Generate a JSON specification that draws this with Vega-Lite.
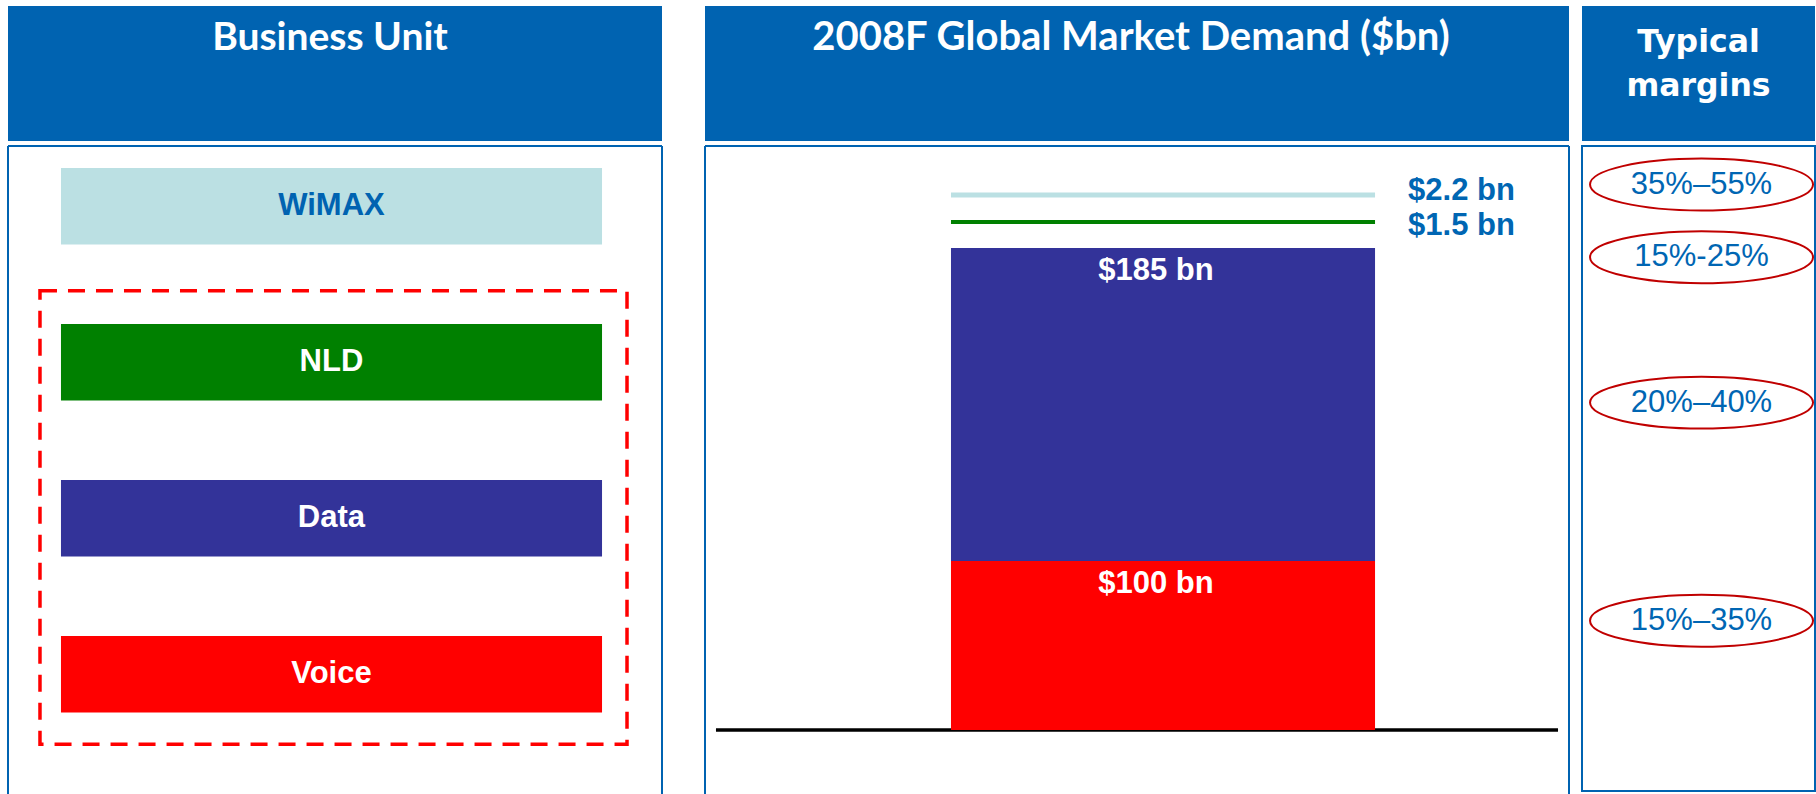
{
  "$schema": "https://vega.github.io/schema/vega-lite/v6.json",
  "background": "white",
  "padding": {"left": 7, "top": 6, "right": 0, "bottom": 0},
  "config": {
    "view": {"stroke": null},
    "font": "Liberation Sans",
    "axis": {"disable": true},
    "legend": {"disable": true}
  },
  "datasets": {
    "units": [
      {"unit": "WiMAX", "margin": "35%–55%"},
      {"unit": "NLD", "margin": "15%-25%"},
      {"unit": "Data", "margin": "20%–40%"},
      {"unit": "Voice", "margin": "15%–35%"}
    ],
    "market": [
      {"segment": "Voice", "value": 100, "order": 1, "label": "$100 bn"},
      {"segment": "Data", "value": 185, "order": 2, "label": "$185 bn"},
      {"segment": "NLD", "value": 1.5, "order": 3, "label": "$1.5 bn"},
      {"segment": "WiMAX", "value": 2.2, "order": 4, "label": "$2.2 bn"}
    ]
  },
  "spacing": 41,
  "hconcat": [
    {
      "spacing": 4,
      "vconcat": [
        {
          "width": 654,
          "height": 135,
          "view": {"fill": "#0063B1", "stroke": null},
          "data": {"values": [{"t": "Business Unit"}]},
          "mark": {"type": "text", "font": "Lato", "fontWeight": "bold", "fontSize": 39, "color": "white", "align": "center", "baseline": "alphabetic", "dy": -23.5, "dx": -5},
          "encoding": {"text": {"field": "t"}}
        },
        {
          "width": 654,
          "height": 648,
          "resolve": {"scale": {"y": "independent"}},
          "layer": [
            {
              "data": {"values": [{}]},
              "mark": {"type": "rule", "color": "#0063B1", "strokeWidth": 2},
              "encoding": {"y": {"datum": 1, "type": "quantitative", "scale": {"domain": [0, 1]}, "axis": null}}
            },
            {
              "data": {"values": [{}]},
              "mark": {"type": "rule", "color": "#0063B1", "strokeWidth": 2},
              "encoding": {"x": {"datum": 0, "type": "quantitative", "scale": {"domain": [0, 1]}, "axis": null}}
            },
            {
              "data": {"values": [{}]},
              "mark": {"type": "rule", "color": "#0063B1", "strokeWidth": 2},
              "encoding": {"x": {"datum": 1, "type": "quantitative", "scale": {"domain": [0, 1]}, "axis": null}}
            },
            {
              "data": {"name": "units"},
              "layer": [
                {
                  "mark": {"type": "rect"},
                  "encoding": {
                    "x": {"datum": 0.081, "type": "quantitative", "scale": {"domain": [0, 1]}, "axis": null},
                    "x2": {"datum": 0.9083},
                    "y": {"field": "unit", "type": "nominal", "axis": null, "scale": {"domain": ["WiMAX", "NLD", "Data", "Voice"], "paddingInner": 0.5096, "paddingOuter": 0.3317, "align": 0.2126, "round": false}},
                    "color": {"field": "unit", "type": "nominal", "legend": null, "scale": {"domain": ["WiMAX", "NLD", "Data", "Voice"], "range": ["#BBE0E3", "#008000", "#333399", "#FF0000"]}}
                  }
                },
                {
                  "data": {"values": [{"from": "NLD", "to": "Voice"}]},
                  "mark": {"type": "rect", "filled": false, "stroke": "#FF0000", "strokeWidth": 3.5, "strokeDash": [17, 11], "yOffset": -71.5, "y2Offset": 70},
                  "encoding": {
                    "x": {"datum": 0.0489, "type": "quantitative", "scale": {"domain": [0, 1]}, "axis": null},
                    "x2": {"datum": 0.9465},
                    "y": {"field": "from", "type": "nominal", "axis": null, "scale": {"domain": ["WiMAX", "NLD", "Data", "Voice"], "paddingInner": 0.5096, "paddingOuter": 0.3317, "align": 0.2126, "round": false}},
                    "y2": {"field": "to"}
                  }
                },
                {
                  "mark": {"type": "text", "font": "Liberation Sans", "fontWeight": "bold", "fontSize": 31, "align": "center", "baseline": "middle"},
                  "encoding": {
                    "x": {"datum": 0.4946, "type": "quantitative", "scale": {"domain": [0, 1]}, "axis": null},
                    "y": {"field": "unit", "type": "nominal", "axis": null, "scale": {"domain": ["WiMAX", "NLD", "Data", "Voice"], "paddingInner": 0.5096, "paddingOuter": 0.3317, "align": 0.2126, "round": false}},
                    "text": {"field": "unit"},
                    "fill": {"field": "unit", "type": "nominal", "legend": null, "scale": {"domain": ["WiMAX", "NLD", "Data", "Voice"], "range": ["#0063B1", "#FFFFFF", "#FFFFFF", "#FFFFFF"]}}
                  }
                }
              ]
            }
          ]
        }
      ]
    },
    {
      "spacing": 11,
      "hconcat": [
        {
          "spacing": 4,
          "vconcat": [
            {
              "width": 864,
              "height": 135,
              "view": {"fill": "#0063B1", "stroke": null},
              "data": {"values": [{"t": "2008F Global Market Demand ($bn)"}]},
              "mark": {"type": "text", "font": "Lato", "fontWeight": "bold", "fontSize": 40, "color": "white", "align": "center", "baseline": "alphabetic", "dy": -23.5, "dx": -6},
              "encoding": {"text": {"field": "t"}}
            },
            {
              "width": 864,
              "height": 648,
              "data": {"name": "market"},
              "transform": [
                {"stack": "value", "groupby": [], "sort": [{"field": "order", "order": "ascending"}], "as": ["y0", "y1"]}
              ],
              "layer": [
                {
                  "data": {"values": [{}]},
                  "mark": {"type": "rule", "color": "#0063B1", "strokeWidth": 2},
                  "encoding": {"x": {"datum": 0, "type": "quantitative", "scale": {"domain": [0, 1]}, "axis": null}}
                },
                {
                  "data": {"values": [{}]},
                  "mark": {"type": "rule", "color": "#0063B1", "strokeWidth": 2},
                  "encoding": {"x": {"datum": 1, "type": "quantitative", "scale": {"domain": [0, 1]}, "axis": null}}
                },
                {
                  "data": {"values": [{}]},
                  "mark": {"type": "rule", "color": "#0063B1", "strokeWidth": 2},
                  "encoding": {"y": {"datum": 345.3, "type": "quantitative", "scale": {"domain": [-37.8, 345.3], "nice": false, "zero": false}, "axis": null}}
                },
                {
                  "data": {"values": [{}]},
                  "mark": {"type": "rule", "color": "#000000", "strokeWidth": 3.5},
                  "encoding": {
                    "x": {"datum": 0.0127, "type": "quantitative", "scale": {"domain": [0, 1]}, "axis": null},
                    "x2": {"datum": 0.9873},
                    "y": {"datum": 0, "type": "quantitative", "scale": {"domain": [-37.8, 345.3], "nice": false, "zero": false}, "axis": null}
                  }
                },
                {
                  "transform": [{"filter": {"field": "segment", "oneOf": ["Voice", "Data"]}}],
                  "mark": {"type": "rect"},
                  "encoding": {
                    "x": {"datum": 0.2847, "type": "quantitative", "scale": {"domain": [0, 1]}, "axis": null},
                    "x2": {"datum": 0.7755},
                    "y": {"field": "y1", "type": "quantitative", "scale": {"domain": [-37.8, 345.3], "nice": false, "zero": false}, "axis": null},
                    "y2": {"field": "y0"},
                    "color": {"field": "segment", "type": "nominal", "legend": null, "scale": {"domain": ["Voice", "Data", "NLD", "WiMAX"], "range": ["#FF0000", "#333399", "#008000", "#BBE0E3"]}}
                  }
                },
                {
                  "transform": [{"filter": {"field": "segment", "equal": "NLD"}}],
                  "mark": {"type": "rule", "strokeWidth": 4, "yOffset": -23.5},
                  "encoding": {
                    "x": {"datum": 0.2847, "type": "quantitative", "scale": {"domain": [0, 1]}, "axis": null},
                    "x2": {"datum": 0.7755},
                    "y": {"field": "y1", "type": "quantitative", "scale": {"domain": [-37.8, 345.3], "nice": false, "zero": false}, "axis": null},
                    "color": {"field": "segment", "type": "nominal", "legend": null, "scale": {"domain": ["Voice", "Data", "NLD", "WiMAX"], "range": ["#FF0000", "#333399", "#008000", "#BBE0E3"]}}
                  }
                },
                {
                  "transform": [{"filter": {"field": "segment", "equal": "WiMAX"}}],
                  "mark": {"type": "rule", "strokeWidth": 5, "yOffset": -46.7},
                  "encoding": {
                    "x": {"datum": 0.2847, "type": "quantitative", "scale": {"domain": [0, 1]}, "axis": null},
                    "x2": {"datum": 0.7755},
                    "y": {"field": "y1", "type": "quantitative", "scale": {"domain": [-37.8, 345.3], "nice": false, "zero": false}, "axis": null},
                    "color": {"field": "segment", "type": "nominal", "legend": null, "scale": {"domain": ["Voice", "Data", "NLD", "WiMAX"], "range": ["#FF0000", "#333399", "#008000", "#BBE0E3"]}}
                  }
                },
                {
                  "transform": [{"filter": {"field": "segment", "oneOf": ["Voice", "Data"]}}],
                  "mark": {"type": "text", "font": "Liberation Sans", "fontWeight": "bold", "fontSize": 31, "color": "#FFFFFF", "align": "center", "baseline": "alphabetic", "dy": 32.5},
                  "encoding": {
                    "x": {"datum": 0.522, "type": "quantitative", "scale": {"domain": [0, 1]}, "axis": null},
                    "y": {"field": "y1", "type": "quantitative", "scale": {"domain": [-37.8, 345.3], "nice": false, "zero": false}, "axis": null},
                    "text": {"field": "label"}
                  }
                },
                {
                  "transform": [{"filter": {"field": "segment", "equal": "NLD"}}],
                  "mark": {"type": "text", "font": "Liberation Sans", "fontWeight": "bold", "fontSize": 31, "color": "#0066B3", "align": "left", "baseline": "alphabetic", "dy": -10.5},
                  "encoding": {
                    "x": {"datum": 0.8137, "type": "quantitative", "scale": {"domain": [0, 1]}, "axis": null},
                    "y": {"field": "y1", "type": "quantitative", "scale": {"domain": [-37.8, 345.3], "nice": false, "zero": false}, "axis": null},
                    "text": {"field": "label"}
                  }
                },
                {
                  "transform": [{"filter": {"field": "segment", "equal": "WiMAX"}}],
                  "mark": {"type": "text", "font": "Liberation Sans", "fontWeight": "bold", "fontSize": 31, "color": "#0066B3", "align": "left", "baseline": "alphabetic", "dy": -41.7},
                  "encoding": {
                    "x": {"datum": 0.8137, "type": "quantitative", "scale": {"domain": [0, 1]}, "axis": null},
                    "y": {"field": "y1", "type": "quantitative", "scale": {"domain": [-37.8, 345.3], "nice": false, "zero": false}, "axis": null},
                    "text": {"field": "label"}
                  }
                }
              ]
            }
          ]
        },
        {
          "spacing": 4,
          "vconcat": [
            {
              "width": 233,
              "height": 135,
              "view": {"fill": "#0063B1", "stroke": null},
              "data": {"values": [{"t": ["Typical", "margins"]}]},
              "mark": {"type": "text", "font": "DejaVu Sans", "fontWeight": "bold", "fontSize": 31.5, "lineHeight": 44, "color": "white", "align": "center", "baseline": "alphabetic", "dy": -22},
              "encoding": {"text": {"field": "t"}}
            },
            {
              "width": 233,
              "height": 645,
              "view": {"stroke": "#0063B1", "strokeWidth": 2, "fill": "white"},
              "data": {"name": "units"},
              "layer": [
                {
                  "mark": {"type": "point", "shape": "M-1,0C-1,-0.1287,-0.5523,-0.233,0,-0.233C0.5523,-0.233,1,-0.1287,1,0C1,0.1287,0.5523,0.233,0,0.233C-0.5523,0.233,-1,0.1287,-1,0Z", "size": 49729, "filled": false, "stroke": "#C00000", "strokeWidth": 2, "opacity": 1},
                  "encoding": {
                    "x": {"datum": 0.513, "type": "quantitative", "scale": {"domain": [0, 1]}, "axis": null},
                    "y": {"field": "unit", "type": "nominal", "axis": null, "scale": {"type": "point", "domain": ["WiMAX", "NLD", " ", "Data", "  ", "   ", "Voice", "    "], "padding": 0.936, "align": 0.283, "round": false}}
                  }
                },
                {
                  "mark": {"type": "text", "font": "Liberation Sans", "fontSize": 31, "color": "#0066B3", "align": "center", "baseline": "middle"},
                  "encoding": {
                    "x": {"datum": 0.513, "type": "quantitative", "scale": {"domain": [0, 1]}, "axis": null},
                    "y": {"field": "unit", "type": "nominal", "axis": null, "scale": {"type": "point", "domain": ["WiMAX", "NLD", " ", "Data", "  ", "   ", "Voice", "    "], "padding": 0.936, "align": 0.283, "round": false}},
                    "text": {"field": "margin"}
                  }
                }
              ]
            }
          ]
        }
      ]
    }
  ]
}
